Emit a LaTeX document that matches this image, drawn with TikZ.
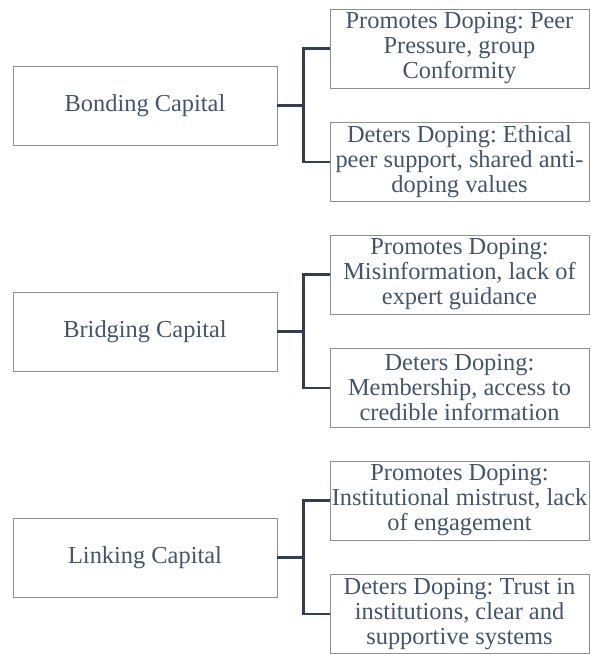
\documentclass[tikz,border=0pt]{standalone}
\usepackage{fontspec}
\setmainfont{Liberation Serif}
\frenchspacing
\definecolor{txtblue}{HTML}{44546A}
\definecolor{boxgray}{HTML}{8E8E8E}
\definecolor{linkdark}{HTML}{333F50}
\tikzset{
  capbox/.style={draw=boxgray,line width=0.9pt,minimum width=264pt,minimum height=79pt,inner sep=0pt,text=txtblue,align=center},
  leafbox/.style={capbox,minimum width=259pt},
  link/.style={draw=linkdark,line width=2.2pt}
}
\begin{document}
\begin{tikzpicture}[x=1pt,y=-1pt,font=\fontsize{24.4}{25}\selectfont]
\pgfmathsetmacro{\xcap}{145}
\pgfmathsetmacro{\xleaf}{459.5}
\pgfmathsetmacro{\up}{57}
\pgfmathsetmacro{\down}{56.5}
\pgfmathsetmacro{\knee}{26}
\useasboundingbox (0,0) rectangle (590,654);
\foreach \n/\y/\ctext/\ptext/\dtext in {
  bond/105.5/{Bonding Capital}/{Promotes Doping: Peer\\Pressure, group\\Conformity}/{Deters Doping: Ethical\\peer support, shared anti-\\doping values},
  bridge/331.5/{Bridging Capital}/{Promotes Doping:\\Misinformation, lack of\\expert guidance}/{Deters Doping:\\Membership, access to\\credible information},
  link/557.5/{Linking Capital}/{Promotes Doping:\\Institutional mistrust, lack\\of engagement}/{Deters Doping: Trust in\\institutions, clear and\\supportive systems}} {
  \node[capbox] (\n) at (\xcap,\y) {\ctext};
  \node[leafbox] (\n-pro) at (\xleaf,\y-\up) {\ptext};
  \node[leafbox] (\n-det) at (\xleaf,\y+\down) {\dtext};
  \draw[link] (\n.east) -- ++(\knee,0) |- (\n-pro.west);
  \draw[link] (\n.east) -- ++(\knee,0) |- (\n-det.west);
}
\end{tikzpicture}
\end{document}
